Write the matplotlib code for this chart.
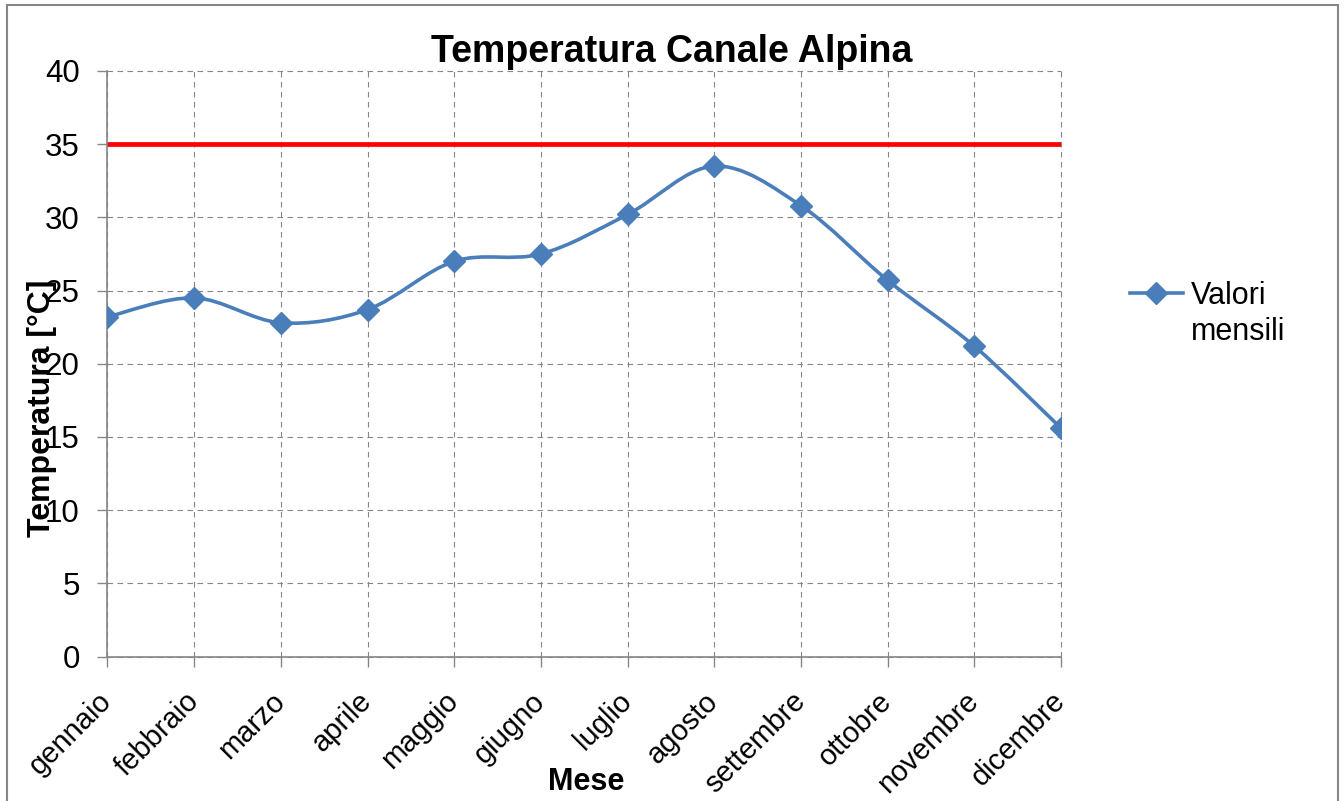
import numpy as np
import matplotlib.pyplot as plt
from matplotlib.path import Path
from matplotlib.patches import PathPatch, Rectangle
from matplotlib.lines import Line2D

plt.rcParams['font.family'] = ['Liberation Sans', 'DejaVu Sans']

# ========================
# Data
# ========================
mesi = ["gennaio", "febbraio", "marzo", "aprile", "maggio", "giugno",
        "luglio", "agosto", "settembre", "ottobre", "novembre", "dicembre"]
valori_mensili = [23.2, 24.5, 22.8, 23.7, 27.0, 27.5,
                  30.2, 33.5, 30.8, 25.7, 21.2, 15.6]
soglia = 35
y_ticks = [0, 5, 10, 15, 20, 25, 30, 35, 40]

blue = "#4A7EBB"
grey = "#868686"

fig = plt.figure(figsize=(13.44, 8.01), dpi=100)
ax = fig.add_axes([107.5 / 1344, 1 - 656.5 / 801, (1061 - 107.5) / 1344, (656.5 - 71) / 801])

x = np.arange(len(mesi))
y = np.array(valori_mensili)

# smoothed line (Excel style): cubic Bezier segments through the points
pts = np.column_stack([x, y]).astype(float)
verts = [pts[0]]
codes = [Path.MOVETO]
n = len(pts)
for i in range(n - 1):
    p_prev = pts[i - 1] if i > 0 else pts[i]
    p_next = pts[i + 2] if i + 2 < n else pts[i + 1]
    c1 = pts[i] + (pts[i + 1] - p_prev) / 6
    c2 = pts[i + 1] - (p_next - pts[i]) / 6
    verts += [c1, c2, pts[i + 1]]
    codes += [Path.CURVE4] * 3
ax.add_patch(PathPatch(Path(verts, codes), facecolor="none", edgecolor=blue,
                       lw=2.6, capstyle="round", zorder=3))
ax.plot(x, y, linestyle="none", marker="D", ms=11.5, color=blue, zorder=4)

# threshold line
ax.axhline(soglia, color="#FF0000", lw=3.4, zorder=2)

# axes
ax.set_xlim(0, len(mesi) - 1)
ax.set_ylim(0, 40)
ax.set_xticks(x)
ax.set_xticklabels(mesi, rotation=45, ha="right", va="center", rotation_mode="anchor", fontsize=21)
ax.set_yticks(y_ticks)
ax.tick_params(axis="y", labelsize=22.5, length=7, width=1, color=grey, pad=13)
ax.tick_params(axis="x", length=7, width=1, color=grey, pad=22)
ax.grid(True, color=grey, linestyle=(0, (5, 4)), lw=0.8)
for gl in ax.get_xgridlines() + ax.get_ygridlines():
    gl.set_clip_on(False)
for s in ["top", "right"]:
    ax.spines[s].set_visible(False)
for s in ["left", "bottom"]:
    ax.spines[s].set_color(grey)
    ax.spines[s].set_linewidth(1.2)

# texts
fig.text(0.5, 1 - 62 / 801, "Temperatura Canale Alpina", ha="center", va="baseline",
         fontsize=27, fontweight="bold")
fig.text(42 / 1344, 1 - 408 / 801, "Temperatura [°C]", rotation=90, ha="center", va="center",
         fontsize=23, fontweight="bold")
fig.text(586 / 1344, 1 - 782 / 801, "Mese", ha="center", va="center",
         fontsize=22, fontweight="bold")

# legend
h1 = Line2D([], [], color=blue, lw=2.6, marker="D", ms=11.5)
h2 = Line2D([], [], linestyle="none")
fig.legend([h1, h2], ["Valori", "mensili"], loc="upper left",
           bbox_to_anchor=(1130 / 1344, 1 - 281 / 801), frameon=False, fontsize=22,
           handlelength=1.73, handletextpad=0.25, borderpad=0, borderaxespad=0,
           labelspacing=0.2)

# outer chart border
fig.patches.append(Rectangle((7 / 1344, -0.05), (1338 - 7) / 1344, 1.05 - 5 / 801,
                             transform=fig.transFigure, fill=False, edgecolor=grey, lw=1.5))

fig.savefig("out.png", dpi=100)
